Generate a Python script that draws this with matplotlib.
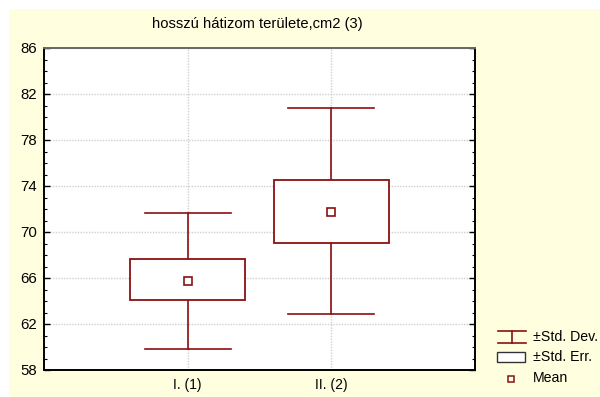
import matplotlib
matplotlib.use("Agg")
import matplotlib.pyplot as plt
from matplotlib.patches import Rectangle
from matplotlib.lines import Line2D
from matplotlib.ticker import FixedLocator, MultipleLocator

plt.rcParams['font.family'] = ['Liberation Sans', 'DejaVu Sans']

title = "hosszú hátizom területe,cm2 (3)"
categories = ["I. (1)", "II. (2)"]
means = [65.75, 71.75]
se_low = [64.05, 69.05]
se_high = [67.65, 74.5]
sd_low = [59.8, 62.85]
sd_high = [71.65, 80.8]
y_ticks = [58, 62, 66, 70, 74, 78, 82, 86]
legend_labels = ["±Std. Dev.", "±Std. Err.", "Mean"]

red = '#8B1010'
bg = '#FFFFE0'

fig = plt.figure(figsize=(6.0, 3.97), dpi=100)
fig.patch.set_facecolor('white')
fig.add_artist(Rectangle((9/600, 0), 1 - 9/600, 1 - 9/397, transform=fig.transFigure,
                         facecolor=bg, edgecolor='none', zorder=-10))

ax = fig.add_axes([44/600, 1 - 370/397, (475-44)/600, (370-48)/397])
ax.set_facecolor('white')
ax.set_xlim(0, 3)
ax.set_ylim(y_ticks[0], y_ticks[-1])
ax.yaxis.set_major_locator(FixedLocator(y_ticks))
ax.yaxis.set_minor_locator(MultipleLocator(1))
xs = list(range(1, len(categories) + 1))
ax.set_xticks(xs)
ax.set_xticklabels(categories, fontsize=10)
ax.tick_params(axis='y', which='major', direction='in', length=4, width=1, labelsize=10.8,
               right=True, pad=5)
ax.tick_params(axis='y', which='minor', direction='in', length=2, width=0.8, right=True)
ax.tick_params(axis='x', which='major', length=0, pad=6)
ax.grid(True, which='major', color='#d0d0d0', linestyle=(0, (1, 1)), linewidth=1)
ax.set_axisbelow(True)
for s in ax.spines.values():
    s.set_linewidth(1.4)
    s.set_color('black')
ax.spines['top'].set_color('#666666')

box_w = 0.8
cap_w = 0.6
for x, m, sl, sh, dl, dh in zip(xs, means, se_low, se_high, sd_low, sd_high):
    ax.plot([x, x], [dl, sl], color=red, lw=1.2, zorder=3)
    ax.plot([x, x], [sh, dh], color=red, lw=1.2, zorder=3)
    ax.plot([x - cap_w/2, x + cap_w/2], [dl, dl], color=red, lw=1.2, zorder=3)
    ax.plot([x - cap_w/2, x + cap_w/2], [dh, dh], color=red, lw=1.2, zorder=3)
    ax.add_patch(Rectangle((x - box_w/2, sl), box_w, sh - sl, facecolor='white',
                           edgecolor=red, lw=1.3, zorder=4))
    ax.plot([x], [m], marker='s', markersize=5.5, markerfacecolor='white',
            markeredgecolor=red, markeredgewidth=1.2, linestyle='none', zorder=5)

fig.text(257/600, 1 - 24/397, title, ha='center', va='center', fontsize=10.6)

# legend (drawn in figure pixel coordinates)
def fx(p):
    return p / 600
def fy(p):
    return 1 - p / 397
fig.add_artist(Line2D([fx(498), fx(526)], [fy(331), fy(331)], color=red, lw=1.2))
fig.add_artist(Line2D([fx(498), fx(526)], [fy(343), fy(343)], color=red, lw=1.2))
fig.add_artist(Line2D([fx(512), fx(512)], [fy(331), fy(343)], color=red, lw=1.2))
fig.add_artist(Rectangle((fx(497), fy(362)), fx(525) - fx(497), fy(352) - fy(362),
                         transform=fig.transFigure, facecolor='white',
                         edgecolor='#333333', lw=1.0))
fig.add_artist(Line2D([fx(511)], [fy(379)], marker='s', markersize=4.5,
                      markerfacecolor='white', markeredgecolor=red,
                      markeredgewidth=1.1, linestyle='none'))
for lab, yy in zip(legend_labels, [337, 357, 378]):
    fig.text(fx(533), fy(yy), lab, ha='left', va='center', fontsize=10.2)

fig.savefig('out.png', dpi=100, facecolor=fig.get_facecolor())
